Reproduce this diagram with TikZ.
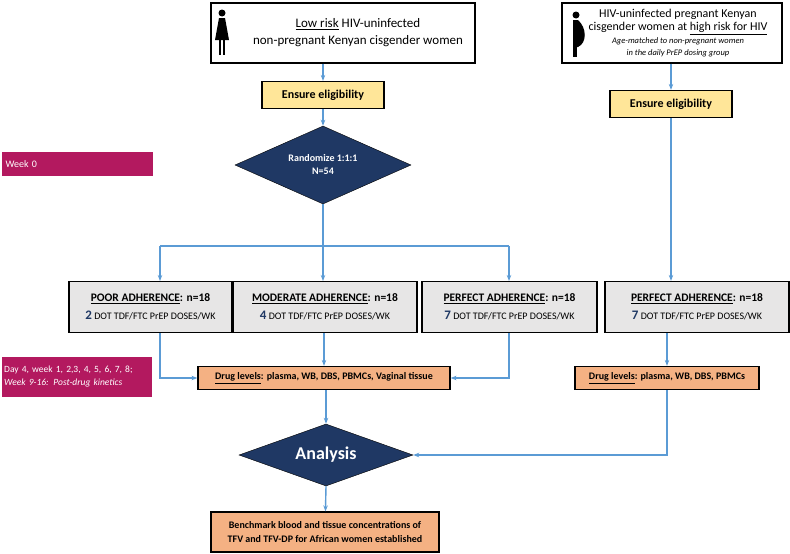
\documentclass[tikz,border=0pt]{standalone}
\usepackage{fontspec}
\setmainfont{Carlito}
\usetikzlibrary{shapes.geometric,arrows.meta}
\definecolor{flow}{HTML}{5B9BD5}
\definecolor{elig}{HTML}{FFE699}
\definecolor{arm}{HTML}{E7E6E6}
\definecolor{drug}{HTML}{F4B183}
\definecolor{navy}{HTML}{1F3864}
\definecolor{week}{HTML}{B3195F}
\tikzset{
  box/.style={draw, line width=1.2pt, inner sep=2pt, align=center},
  link/.style={flow, line width=1.4pt},
  arr/.style={link, -{Stealth[length=6pt]}},
  dia/.style={diamond, fill=navy, draw=black, aspect=2.8, text=white, font=\bfseries, inner sep=0pt},
}
\newcommand{\num}[1]{{\color{navy}\fontsize{13}{13}\selectfont\bfseries #1}}
\begin{document}
\begin{tikzpicture}[x=1pt, y=-1pt]
  \useasboundingbox (0,0) rectangle (790,554);
  % top boxes
  \node[box, minimum width=264, minimum height=60, font=\fontsize{13}{17}\selectfont] (low) at (343,33)
    {\hspace*{30pt}\underline{Low risk} HIV-uninfected\\\hspace*{30pt}non-pregnant Kenyan cisgender women};
  \node[box, minimum width=220, minimum height=60, inner sep=1pt, font=\fontsize{12}{13}\selectfont] (high) at (672,33)
    {\hspace*{12pt}HIV-uninfected pregnant Kenyan\\\hspace*{12pt}cisgender women at \underline{high risk for HIV}\\
     \hspace*{12pt}{\fontsize{8.5}{10}\selectfont\itshape Age-matched to non-pregnant women}\\[-1pt]
     \hspace*{12pt}{\fontsize{8.5}{10}\selectfont\itshape in the daily PrEP dosing group}};
  % icons
  \fill (222,13) circle (3.5);
  \fill (219,18) -- (225,18) -- (229,40) -- (215,40) -- cycle;
  \fill (219,40) rectangle (221,55); \fill (223,40) rectangle (225,55);
  \fill (576,15) circle (3.5);
  \fill (573,20) -- (578,20) .. controls (587,28) and (587,43) .. (578,47) -- (573,47) -- cycle;
  \fill (573,47) rectangle (577,57);
  % eligibility
  \node[box, fill=elig, minimum width=122, minimum height=27, font=\fontsize{12}{14}\selectfont\bfseries] (elig1) at (323,95) {Ensure eligibility};
  \node[box, fill=elig, minimum width=122, minimum height=27, font=\fontsize{12}{14}\selectfont\bfseries] (elig2) at (671,104) {Ensure eligibility};
  \node[dia, minimum width=176, minimum height=78, font=\fontsize{10}{13}\selectfont\bfseries, align=center] (rand) at (323,165) {Randomize 1:1:1\\N=54};
  % week labels
  \node[fill=week, text=white, minimum width=150, minimum height=24, anchor=west, text width=144, font=\fontsize{10}{12}\selectfont] (wk0) at (2,164) {Week 0};
  \node[fill=week, text=white, minimum width=150, minimum height=40, anchor=west, text width=146, inner sep=2pt, font=\fontsize{9.5}{13}\selectfont, align=left] (wk) at (2,377)
    {Day 4, week 1, 2,3, 4, 5, 6, 7, 8;\\\itshape Week 9-16: Post-drug kinetics};
  % arms
  \foreach \n/\x/\w/\lab/\d in {poor/150.5/163/POOR/2, mod/325/184/MODERATE/4, perf/509.5/175/PERFECT/7, preg/697/184/PERFECT/7}
    \node[box, fill=arm, minimum width=\w, minimum height=51, font=\fontsize{11.5}{18}\selectfont] (\n) at (\x,307)
      {\textbf{\underline{\lab\ ADHERENCE}: n=18}\\{\fontsize{10}{12}\selectfont\num{\d} DOT TDF/FTC PrEP DOSES/WK}};
  % drug levels
  \node[box, fill=drug, minimum width=252, minimum height=23, font=\fontsize{10}{12}\selectfont\bfseries] (lvl1) at (324,378)
    {\underline{Drug levels}: plasma, WB, DBS, PBMCs, Vaginal tissue};
  \node[box, fill=drug, minimum width=184, minimum height=23, font=\fontsize{10}{12}\selectfont\bfseries] (lvl2) at (667,378)
    {\underline{Drug levels}: plasma, WB, DBS, PBMCs};
  \node[dia, minimum width=174, minimum height=62, font=\fontsize{18}{20}\selectfont\bfseries] (ana) at (326,455) {Analysis};
  \node[box, fill=drug, minimum width=228, minimum height=40, font=\fontsize{10}{14}\selectfont\bfseries] (bench) at (325,532)
    {Benchmark blood and tissue concentrations of\\TFV and TFV-DP for African women established};
  % connectors
  \draw[arr] (low.south -| elig1) -- (elig1);
  \draw[arr] (elig1) -- (rand);
  \draw[arr] (high.south -| elig2) -- (elig2);
  \draw[arr] (elig2) -- (preg.north -| elig2);
  \coordinate (split) at (323,246);
  \draw[link] (rand.south) -- (split);
  \draw[link] (160,246) -- (509,246);
  \draw[arr] (160,246) -- (160,281);
  \draw[arr] (split) -- (323,281);
  \draw[arr] (509,246) -- (509,281);
  \draw[arr] (poor.south -| 160,0) |- (lvl1.west);
  \draw[arr] (perf.south -| 509,0) |- (lvl1.east);
  \draw[arr] (mod.south -| lvl1) -- (lvl1);
  \draw[arr] (lvl1.south -| ana) -- (ana.north);
  \draw[arr] (preg.south -| lvl2) -- (lvl2);
  \draw[arr] (lvl2.south) |- (ana.east);
  \draw[arr] (ana.south) -- (bench);
\end{tikzpicture}
\end{document}
